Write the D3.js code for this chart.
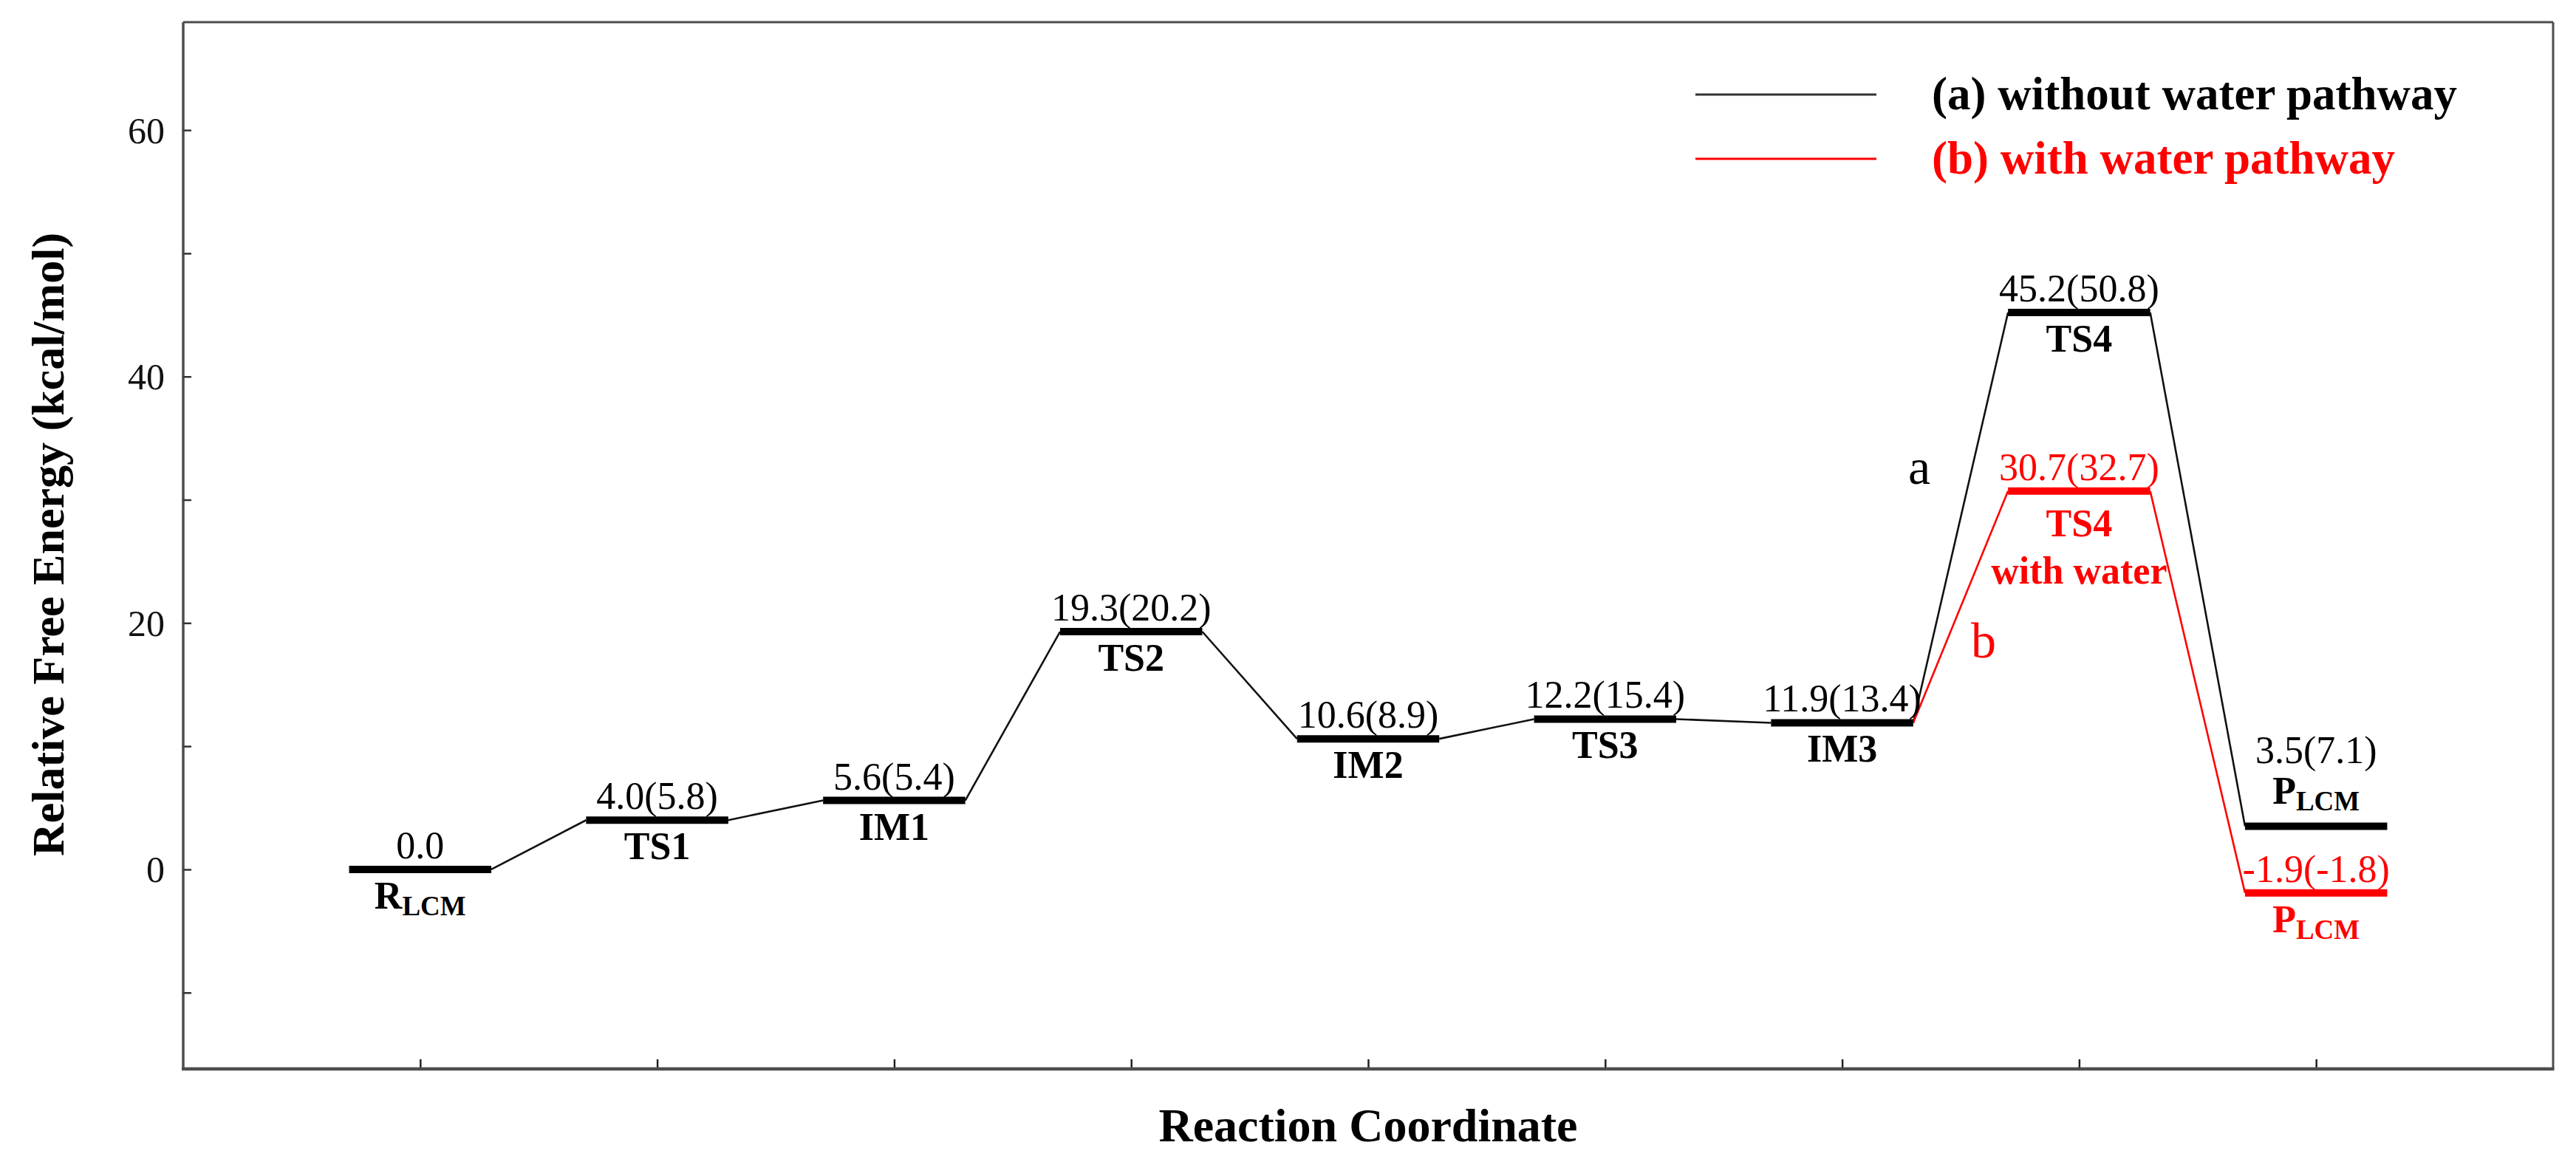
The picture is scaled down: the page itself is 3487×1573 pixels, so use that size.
<!DOCTYPE html>
<html>
<head>
<meta charset="utf-8">
<script src="https://cdn.jsdelivr.net/npm/d3@7"></script>
<style>
  html, body { margin: 0; padding: 0; background: #fff; }
  svg { display: block; }
  text { font-family: "Liberation Serif", "Times New Roman", serif; }
</style>
</head>
<body>
<svg id="chart" width="3487" height="1573"></svg>
<script>
// ---- data ----
const categories = ["R", "TS1", "IM1", "TS2", "IM2", "TS3", "IM3", "TS4", "P"];
const positions = [1, 2, 3, 4, 5, 6, 7, 8, 9];
const energyA = [0.0, 4.0, 5.6, 19.3, 10.6, 12.2, 11.9, 45.2, 3.5];
const valueLabelsA = ["0.0", "4.0(5.8)", "5.6(5.4)", "19.3(20.2)", "10.6(8.9)", "12.2(15.4)", "11.9(13.4)", "45.2(50.8)", "3.5(7.1)"];
const categoriesB = ["IM3", "TS4", "P"];
const positionsB = [7, 8, 9];
const energyB = [11.9, 30.7, -1.9];
const valueLabelsB = [null, "30.7(32.7)", "-1.9(-1.8)"];
const yTicks = [-10, 0, 10, 20, 30, 40, 50, 60];
const yTickLabels = [0, 20, 40, 60];
const legendLabels = ["(a) without water pathway", "(b) with water pathway"];

// ---- layout ----
const svg = d3.select("#chart");
const L = 248, R = 3456, T = 30, B = 1447;
const x = d3.scaleLinear().domain([0, 10]).range([L, R]);
const y = d3.scaleLinear().domain([-16.19, 68.76]).range([B, T]);
const hw = 0.3;
const red = "#ff0000";

// frame
const frame = svg.append("g").attr("stroke", "#4d4d4d").attr("fill", "none");
frame.append("line").attr("x1", L).attr("x2", R).attr("y1", T).attr("y2", T).attr("stroke-width", 3);
frame.append("line").attr("x1", R).attr("x2", R).attr("y1", T).attr("y2", B).attr("stroke-width", 3);
frame.append("line").attr("x1", L).attr("x2", L).attr("y1", T).attr("y2", B).attr("stroke-width", 3.5);
frame.append("line").attr("x1", L - 2).attr("x2", R + 1.5).attr("y1", B).attr("y2", B).attr("stroke-width", 4.5);

// y axis (inward ticks)
const yAxis = d3.axisRight(y).tickValues(yTicks).tickSize(11).tickFormat("");
const gy = svg.append("g").attr("transform", `translate(${L},0)`).call(yAxis);
gy.select(".domain").remove();
gy.selectAll(".tick line").attr("stroke", "#333").attr("stroke-width", 2.5);
svg.append("g").selectAll("text").data(yTickLabels).join("text")
  .attr("x", L - 25).attr("y", d => y(d)).attr("dy", "0.35em")
  .attr("text-anchor", "end").attr("font-size", 50).attr("fill", "#111")
  .text(d => d);

// x axis (inward ticks)
const xAxis = d3.axisTop(x).tickValues(positions).tickSize(11).tickFormat("");
const gx = svg.append("g").attr("transform", `translate(0,${B - 2})`).call(xAxis);
gx.select(".domain").remove();
gx.selectAll(".tick line").attr("stroke", "#222").attr("stroke-width", 2.5);

// axis titles
svg.append("text").attr("x", (L + R) / 2).attr("y", 1545).attr("text-anchor", "middle")
  .attr("font-size", 64).attr("font-weight", "bold").text("Reaction Coordinate");
svg.append("text").attr("transform", "translate(86,737) rotate(-90)").attr("text-anchor", "middle")
  .attr("font-size", 62).attr("font-weight", "bold").text("Relative Free Energy (kcal/mol)");

// connectors
function connectors(pos, en, color) {
  const segs = [];
  for (let i = 0; i < pos.length - 1; i++) {
    segs.push([[x(pos[i] + hw), y(en[i])], [x(pos[i + 1] - hw), y(en[i + 1])]]);
  }
  svg.append("g").selectAll("line").data(segs).join("line")
    .attr("x1", d => d[0][0]).attr("y1", d => d[0][1])
    .attr("x2", d => d[1][0]).attr("y2", d => d[1][1])
    .attr("stroke", color).attr("stroke-width", 2.6);
}
connectors(positions, energyA, "#111");
connectors(positionsB, energyB, red);

// bars (energy levels)
function levels(pos, en, color, skipFirst) {
  const idx = d3.range(pos.length).filter(i => !(skipFirst && i === 0));
  svg.append("g").selectAll("line").data(idx).join("line")
    .attr("x1", i => x(pos[i] - hw)).attr("x2", i => x(pos[i] + hw))
    .attr("y1", i => y(en[i])).attr("y2", i => y(en[i]))
    .attr("stroke", color).attr("stroke-width", 10);
}
levels(positions, energyA, "#000", false);
levels(positionsB, energyB, red, true);

// value labels
svg.append("g").selectAll("text").data(d3.range(positions.length)).join("text")
  .attr("x", i => x(positions[i]))
  .attr("y", i => categories[i] === "P" ? y(energyA[i]) - 86 : y(energyA[i]) - 15)
  .attr("text-anchor", "middle").attr("font-size", 52).attr("fill", "#000")
  .text(i => valueLabelsA[i]);
svg.append("g").selectAll("text").data([1, 2]).join("text")
  .attr("x", i => x(positionsB[i])).attr("y", i => y(energyB[i]) - 15)
  .attr("text-anchor", "middle").attr("font-size", 52).attr("fill", red)
  .text(i => valueLabelsB[i]);

// name labels
function nameLabel(cx, by, name, color) {
  const t = svg.append("text").attr("x", cx).attr("y", by).attr("text-anchor", "middle")
    .attr("font-size", 52).attr("font-weight", "bold").attr("fill", color);
  if (name === "R" || name === "P") {
    t.append("tspan").text(name);
    t.append("tspan").attr("font-size", 37).attr("dy", 9).text("LCM");
  } else {
    t.text(name);
  }
}
categories.forEach((c, i) => {
  const by = c === "P" ? y(energyA[i]) - 31 : y(energyA[i]) + 53;
  nameLabel(x(positions[i]), by, c, "#000");
});
nameLabel(x(positionsB[1]), y(energyB[1]) + 61, "TS4", red);
svg.append("text").attr("x", x(positionsB[1])).attr("y", y(energyB[1]) + 125)
  .attr("text-anchor", "middle").attr("font-size", 52).attr("font-weight", "bold")
  .attr("fill", red).text("with water");
nameLabel(x(positionsB[2]), y(energyB[2]) + 53, "P", red);

// path letters
svg.append("text").attr("x", 2598).attr("y", 655).attr("text-anchor", "middle")
  .attr("font-size", 68).attr("fill", "#000").text("a");
svg.append("text").attr("x", 2685).attr("y", 890).attr("text-anchor", "middle")
  .attr("font-size", 68).attr("fill", red).text("b");

// legend
const legendColors = ["#333", red];
const legendY = [128, 215];
const lg = svg.append("g");
legendLabels.forEach((lab, i) => {
  lg.append("line").attr("x1", 2295).attr("x2", 2540).attr("y1", legendY[i]).attr("y2", legendY[i])
    .attr("stroke", legendColors[i]).attr("stroke-width", 3);
  lg.append("text").attr("x", 2615).attr("y", legendY[i]).attr("dy", "0.32em")
    .attr("font-size", 63).attr("font-weight", "bold").attr("fill", i === 0 ? "#000" : red)
    .text(lab);
});
</script>
</body>
</html>
